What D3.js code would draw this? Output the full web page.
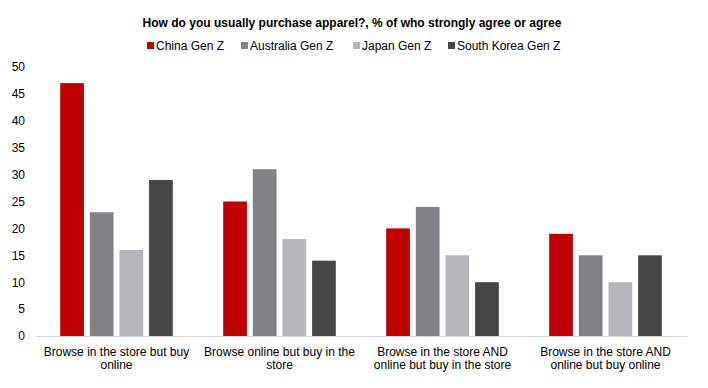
<!DOCTYPE html>
<html><head><meta charset="utf-8">
<script src="https://cdn.jsdelivr.net/npm/d3@7"></script>
<style>body{margin:0;background:#fff}svg{display:block;font-family:"Liberation Sans",Arial,sans-serif}</style>
</head><body><svg id="c" width="708" height="388"></svg>
<script>
const title = "How do you usually purchase apparel?, % of who strongly agree or agree";
const categories = ["Browse in the store but buy online","Browse online but buy in the store","Browse in the store AND online but buy in the store","Browse in the store AND online but buy online"];
const seriesNames = ["China Gen Z","Australia Gen Z","Japan Gen Z","South Korea Gen Z"];
const seriesColors = ["#C00000","#818286","#B6B5B9","#464845"];
const chinaGenZ = [47,25,20,19];
const australiaGenZ = [23,31,24,15];
const japanGenZ = [16,18,15,10];
const southKoreaGenZ = [29,14,10,15];
const yTicks = [0,5,10,15,20,25,30,35,40,45,50];
const seriesValues = [chinaGenZ, australiaGenZ, japanGenZ, southKoreaGenZ];

(function(){
const svg = d3.select("#c");
const mLeft = 35, mRight = 687, mTop = 67, mBottom = 336;
const x0 = d3.scaleBand().domain(categories).range([mLeft,mRight]).paddingInner(0).paddingOuter(0);
const x1 = d3.scaleBand().domain(seriesNames).range([0,x0.bandwidth()]).paddingInner(0.2).paddingOuter(0.85);
const y = d3.scaleLinear().domain([0,50]).range([mBottom,mTop]);

svg.append("text").attr("x",352).attr("y",27).attr("text-anchor","middle")
  .attr("font-weight","bold").attr("font-size",12).attr("fill","#000").text(title);

const legX = [147,241,353,448];
const leg = svg.append("g");
seriesNames.forEach((s,i)=>{
  leg.append("rect").attr("x",legX[i]).attr("y",42).attr("width",7).attr("height",7).attr("fill",seriesColors[i]);
  leg.append("text").attr("x",legX[i]+9).attr("y",49.5).attr("font-size",12).attr("fill","#000").text(s);
});

const ya = svg.append("g").attr("transform",`translate(${mLeft},0)`)
  .call(d3.axisLeft(y).tickValues(yTicks).tickSize(0).tickPadding(10));
ya.select(".domain").remove();
ya.selectAll("text").attr("font-size",12).attr("fill","#000").attr("font-family","Liberation Sans, Arial, sans-serif");

const groups = svg.append("g").selectAll("g").data(categories).join("g")
  .attr("transform",d=>`translate(${x0(d)},0)`);
groups.selectAll("rect").data((d,ci)=>seriesNames.map((s,si)=>({s,v:seriesValues[si][ci],c:seriesColors[si]})))
  .join("rect").attr("x",d=>x1(d.s)).attr("width",x1.bandwidth())
  .attr("y",d=>y(d.v)).attr("height",d=>y(0)-y(d.v)).attr("fill",d=>d.c);

const xa = svg.append("g").attr("transform",`translate(0,${mBottom})`)
  .call(d3.axisBottom(x0).tickSize(0).tickPadding(0));
xa.select(".domain").attr("stroke","#D9D9D9").attr("stroke-width",1);
xa.selectAll("text").remove();

function wrap(str, maxW){
  const words = str.split(" "); const lines=[]; let cur="";
  const t = svg.append("text").attr("font-size",12);
  words.forEach(w=>{
    const test = cur? cur+" "+w : w;
    t.text(test);
    if (t.node().getComputedTextLength()>maxW && cur){ lines.push(cur); cur=w; } else cur=test;
  });
  if(cur) lines.push(cur); t.remove(); return lines;
}
categories.forEach(c=>{
  const lines = wrap(c,158);
  const t = svg.append("text").attr("text-anchor","middle").attr("font-size",12).attr("fill","#000");
  lines.forEach((l,i)=>t.append("tspan").attr("x",x0(c)+x0.bandwidth()/2).attr("y",355.5+i*13.5).text(l));
});
})();
</script></body></html>
